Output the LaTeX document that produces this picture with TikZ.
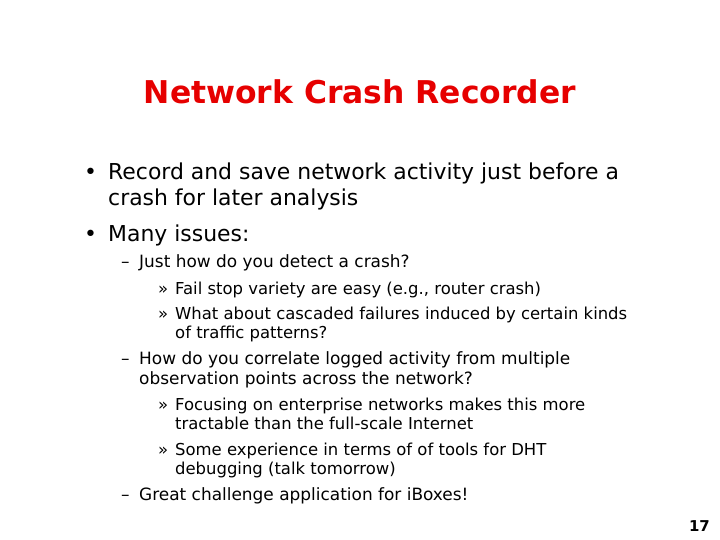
\documentclass[tikz,border=0pt]{standalone}
\usepackage{fontspec}
\setmainfont{DejaVu Sans}
\begin{document}
\begin{tikzpicture}[x=1bp,y=-1bp,
  t/.style={anchor=base west,inner sep=0pt},
  l1/.style={t,font=\fontsize{22}{24}\selectfont},
  l2/.style={t,font=\fontsize{17}{18}\selectfont},
  l3/.style={t,font=\fontsize{16.5}{18}\selectfont}]
\useasboundingbox (0,0) rectangle (720,540);
\node[anchor=base,inner sep=0pt,font=\fontsize{31.5}{34}\selectfont\bfseries,text={rgb,255:red,230;green,0;blue,0}] (title) at (360,104) {Network Crash Recorder};
\node[l1] (b1) at (84,180) {•};
\node[l1] (t1) at (108,180) {Record and save network activity just before a};
\node[l1] (t1b) at (108,206) {crash for later analysis};
\node[l1] (b2) at (84,242) {•};
\node[l1] (t2) at (108,242) {Many issues:};
\node[l2] (d1) at (121,268) {–};
\node[l2] (s1) at (139,268) {Just how do you detect a crash?};
\node[l3] (r1) at (158,294) {»};
\node[l3] (u1) at (175,294) {Fail stop variety are easy (e.g., router crash)};
\node[l3] (r2) at (158,319) {»};
\node[l3] (u2) at (175,319) {What about cascaded failures induced by certain kinds};
\node[l3] (u2b) at (175,338) {of traffic patterns?};
\node[l2] (d2) at (121,364) {–};
\node[l2] (s2) at (139,364) {How do you correlate logged activity from multiple};
\node[l2] (s2b) at (139,384) {observation points across the network?};
\node[l3] (r3) at (158,410) {»};
\node[l3] (u3) at (175,410) {Focusing on enterprise networks makes this more};
\node[l3] (u3b) at (175,429) {tractable than the full-scale Internet};
\node[l3] (r4) at (158,455) {»};
\node[l3] (u4) at (175,455) {Some experience in terms of of tools for DHT};
\node[l3] (u4b) at (175,474) {debugging (talk tomorrow)};
\node[l2] (d3) at (121,500) {–};
\node[l2] (s3) at (139,500) {Great challenge application for iBoxes!};
\node[anchor=base east,inner sep=0pt,font=\fontsize{15}{18}\selectfont\bfseries] (num) at (710,531) {17};
\end{tikzpicture}
\end{document}
